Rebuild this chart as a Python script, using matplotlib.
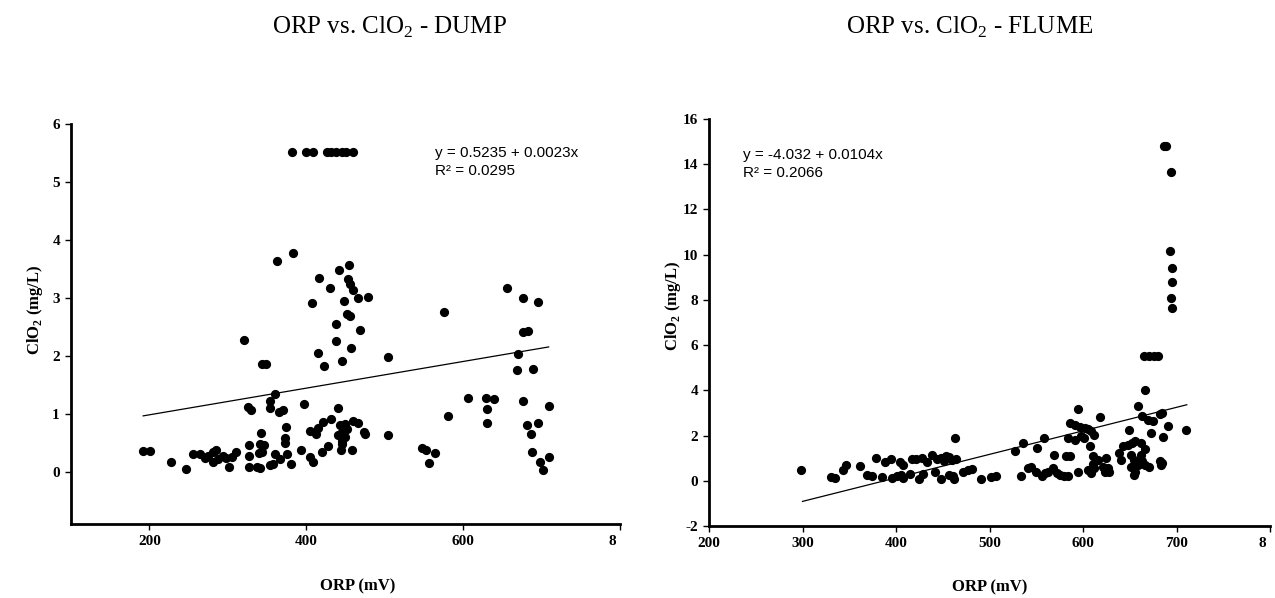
import matplotlib
matplotlib.use('Agg')
import matplotlib.pyplot as plt
from matplotlib.transforms import Bbox, TransformedBbox

plt.rcParams['font.family'] = ['Liberation Serif', 'DejaVu Serif']
plt.rcParams['mathtext.fontset'] = 'custom'
plt.rcParams['mathtext.rm'] = 'Liberation Serif'
plt.rcParams['mathtext.bf'] = 'Liberation Serif:bold'
plt.rcParams['axes.unicode_minus'] = False

# DUMP data (ORP mV, ClO2 mg/L)
dump_orp = [382, 399, 409, 426, 432, 438, 445, 451, 460,
            363, 383, 442, 454, 416, 430, 453, 456, 460, 466, 479, 407, 448,
            452, 456, 438, 468, 320, 438, 457, 415, 446, 423, 504, 344, 349,
            360, 354, 326, 330, 354, 365, 370, 397, 440, 432, 421, 415, 405, 413, 374, 342,
            443, 449, 452, 446, 441, 450, 445, 446, 460, 466, 473, 475,
            504, 373, 373, 327, 341, 346, 393, 428, 420, 444, 458,
            192, 201, 227, 246,
            256, 264, 271, 275, 281, 285, 281, 288, 294, 298, 305, 301, 310,
            327, 327, 341, 337, 340, 343, 360, 366, 354, 358, 376, 380, 405, 408,
            576, 581, 606, 548, 553, 564, 557, 629, 639, 630, 630,
            656, 676, 696, 670, 669, 689, 676, 683, 676, 709, 681, 696, 686, 688, 698, 702, 709]
dump_clo2 = [5.52, 5.52, 5.52, 5.52, 5.52, 5.52, 5.52, 5.52, 5.52,
             3.64, 3.78, 3.49, 3.57, 3.34, 3.17, 3.32, 3.24, 3.13, 3.00, 3.01, 2.92, 2.95,
             2.72, 2.69, 2.55, 2.44, 2.28, 2.25, 2.14, 2.05, 1.91, 1.82, 1.98, 1.86, 1.86,
             1.34, 1.23, 1.11, 1.07, 1.10, 1.03, 1.07, 1.17, 1.10, 0.91, 0.86, 0.75, 0.71, 0.66, 0.78, 0.67,
             0.80, 0.83, 0.74, 0.68, 0.63, 0.60, 0.54, 0.48, 0.88, 0.84, 0.68, 0.66,
             0.64, 0.58, 0.49, 0.47, 0.48, 0.47, 0.38, 0.44, 0.34, 0.37, 0.38,
             0.36, 0.36, 0.17, 0.05,
             0.30, 0.31, 0.24, 0.28, 0.34, 0.37, 0.17, 0.22, 0.28, 0.24, 0.25, 0.09, 0.35,
             0.27, 0.08, 0.07, 0.08, 0.33, 0.35, 0.30, 0.22, 0.11, 0.14, 0.31, 0.14, 0.26, 0.17,
             2.76, 0.96, 1.27, 0.41, 0.37, 0.32, 0.155, 1.28, 1.26, 1.09, 0.84,
             3.17, 3.00, 2.93, 2.03, 1.76, 1.78, 2.41, 2.43, 1.22, 1.13, 0.80, 0.84, 0.66, 0.35, 0.17, 0.04, 0.25]

# FLUME data
flume_orp = [298, 330, 335, 343, 347, 361, 369, 374, 379, 385, 388, 395,
             396, 401, 405, 408, 404, 407, 415, 417, 421, 425, 429,
             428, 433, 438, 442, 444, 448, 451, 453, 457, 460, 464,
             448, 457, 461, 462, 463, 472, 477, 481, 491, 502, 507,
             527, 536, 534, 541, 544, 551, 558,
             550, 556, 559, 563, 568, 572, 575, 580, 584, 569, 582, 586, 595,
             586, 591, 597, 602, 605, 609, 612, 584, 591, 598, 601, 607, 618,
             595, 605, 611, 611, 612, 609, 616, 621, 625, 627, 628, 623,
             639, 641, 643, 648, 652, 656, 662, 666, 649, 659,
             651, 655, 659, 663, 666, 671, 651, 656, 655, 662, 666,
             665, 671, 676, 680,
             663, 669, 675, 673, 682, 685, 691, 686, 682, 684, 683, 710,
             687, 689, 694, 693, 695, 695, 694, 695]
flume_clo2 = [0.49, 0.15, 0.12, 0.49, 0.68, 0.66, 0.27, 0.19, 1.00, 0.16, 0.81, 0.98,
              0.12, 0.19, 0.27, 0.12, 0.81, 0.71, 0.30, 0.98, 0.98, 0.08, 0.30,
              1.00, 0.81, 1.15, 0.41, 0.96, 1.00, 0.86, 1.08, 1.05, 0.90, 0.96,
              0.09, 0.27, 0.22, 0.09, 1.89, 0.41, 0.46, 0.52, 0.09, 0.16, 0.22,
              1.33, 1.67, 0.22, 0.56, 0.63, 1.45, 1.89,
              0.41, 0.19, 0.34, 0.41, 0.56, 0.34, 0.27, 0.22, 0.22, 1.12, 1.11, 1.08, 3.18,
              2.56, 2.48, 2.38, 2.34, 2.29, 2.19, 2.04, 1.89, 1.82, 1.96, 1.88, 1.52, 2.81,
              0.41, 0.49, 1.08, 0.75, 0.56, 0.34, 0.93, 0.63, 1.00, 0.56, 0.41, 0.37,
              1.23, 0.93, 1.55, 1.60, 1.67, 1.74, 1.67, 1.41, 2.23, 3.30,
              1.15, 0.93, 0.71, 0.86, 0.71, 0.63, 0.63, 0.41, 0.27, 1.15, 4.00,
              5.54, 5.54, 5.54, 5.54,
              2.85, 2.71, 2.63, 2.12, 2.97, 3.00, 2.44, 1.94, 0.86, 0.78, 0.71, 2.23,
              14.82, 14.82, 13.64, 10.17, 9.40, 8.81, 8.07, 7.66]

# regression lines as reported on the chart
dump_fit = (0.5235, 0.0023)
dump_fit_x = [192, 709]
flume_fit = (-4.032, 0.0104)
flume_fit_x = [300, 711]

W, H = 1275, 598
fig = plt.figure(figsize=(W / 100, H / 100), dpi=100)


def setup(ax, xlim, ylim, xticks, yticks):
    ax.set_xlim(*xlim)
    ax.set_ylim(*ylim)
    ax.set_xticks(xticks)
    ax.set_yticks(yticks)
    for s in ['top', 'right']:
        ax.spines[s].set_visible(False)
    for s in ['left', 'bottom']:
        ax.spines[s].set_linewidth(2.0)
    ax.tick_params(direction='out', length=4, width=1, labelsize=11, pad=4)
    for lab in ax.get_xticklabels() + ax.get_yticklabels():
        lab.set_fontweight('bold')


# left: DUMP
ax1 = fig.add_axes([71 / W, (H - 524) / H, 549 / W, 400 / H])
ax1.scatter(dump_orp, dump_clo2, s=44, color='black', zorder=3, linewidths=0)
ax1.plot(dump_fit_x, [dump_fit[0] + dump_fit[1] * x for x in dump_fit_x], color='black', lw=0.9)
setup(ax1, (100, 800), (-0.9, 6), [200, 400, 600, 800], [0, 1, 2, 3, 4, 5, 6])
ax1.set_xlabel('ORP (mV)', fontsize=12, fontweight='bold')
ax1.set_ylabel(r'ClO$_\mathbf{2}$ (mg/L)', fontsize=12, fontweight='bold')
ax1.xaxis.set_label_coords(0.523, -0.135)
ax1.yaxis.set_label_coords(-0.047, 0.535)

# right: FLUME
ax2 = fig.add_axes([709 / W, (H - 526) / H, 561 / W, 407 / H])
ax2.scatter(flume_orp, flume_clo2, s=44, color='black', zorder=3, linewidths=0)
ax2.plot(flume_fit_x, [flume_fit[0] + flume_fit[1] * x for x in flume_fit_x], color='black', lw=0.9)
setup(ax2, (200, 800), (-2, 16), [200, 300, 400, 500, 600, 700, 800], list(range(-2, 17, 2)))
ax2.set_xlabel('ORP (mV)', fontsize=12, fontweight='bold')
ax2.set_ylabel(r'ClO$_\mathbf{2}$ (mg/L)', fontsize=12, fontweight='bold')
ax2.xaxis.set_label_coords(0.50, -0.13)
ax2.yaxis.set_label_coords(-0.046, 0.54)

# the last x tick label is cut off at the end of the axis in the original
for ax in (ax1, ax2):
    pos = ax.get_position()
    clip = TransformedBbox(Bbox([[0, 0], [pos.x1 - 4 / W, 1]]), fig.transFigure)
    lab = ax.get_xticklabels()[-1]
    lab.set_clip_on(True)
    lab.set_clip_box(clip)

# equations
eq_font = dict(fontsize=11, family=['Liberation Sans', 'DejaVu Sans'], va='center', ha='left')
fig.text(435 / W, 1 - 153 / H, 'y = 0.5235 + 0.0023x', **eq_font)
fig.text(435 / W, 1 - 171 / H, 'R² = 0.0295', **eq_font)
fig.text(743 / W, 1 - 155 / H, 'y = -4.032 + 0.0104x', **eq_font)
fig.text(743 / W, 1 - 173 / H, 'R² = 0.2066', **eq_font)

# titles
fig.text(390 / W, 1 - 27 / H, r'ORP vs. ClO$_2$ - DUMP', fontsize=18, ha='center', va='center')
fig.text(970 / W, 1 - 27 / H, r'ORP vs. ClO$_2$ - FLUME', fontsize=18, ha='center', va='center')

fig.savefig('out.png', dpi=100)
